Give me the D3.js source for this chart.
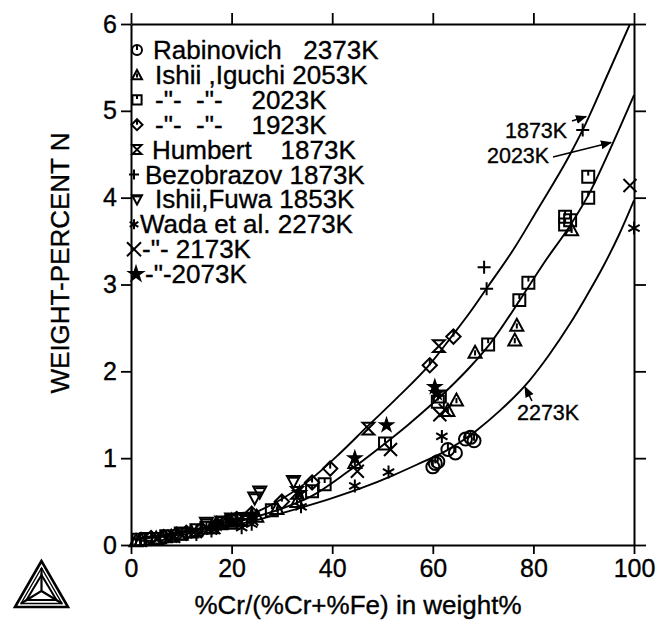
<!DOCTYPE html>
<html>
<head>
<meta charset="utf-8">
<script src="https://cdn.jsdelivr.net/npm/d3@7"></script>
<style>
  body { margin: 0; background: #fff; }
  svg { font-family: "Liberation Sans", Arial, Helvetica, sans-serif; }
  text { stroke: #000; stroke-width: 0.35px; }
</style>
</head>
<body>
<svg id="chart" width="657" height="627"></svg>
<script>
// calculated solubility curves, [%Cr/(%Cr+%Fe), wt-% N]
var curve1873 = [[0,0.07],[10,0.15],[20,0.28],[24.5,0.37],[30,0.53],[35.6,0.75],[41.6,1.06],[46.9,1.36],[53,1.7],[59.4,2.08],[64,2.42],[67.4,2.68],[71,2.98],[76,3.4],[80.7,3.85],[87.3,4.5],[89.8,4.78],[95,5.45],[99.2,6.0]]
var curve2023 = [[0,0.07],[10,0.14],[20,0.25],[24.5,0.32],[30,0.42],[35.8,0.56],[43,0.84],[50.5,1.17],[55,1.38],[59.4,1.6],[63.5,1.82],[67.4,2.05],[71.4,2.32],[77.3,2.82],[82,3.24],[87.3,3.68],[91.3,4.07],[95.2,4.55],[100,5.18]]
var curve2273 = [[0,0.06],[10,0.12],[20,0.22],[24.5,0.28],[33.8,0.43],[40,0.54],[46,0.66],[52,0.8],[57,0.93],[62.8,1.09],[68.7,1.32],[73.4,1.55],[79.3,1.9],[83,2.18],[87.3,2.55],[90.5,2.86],[93.9,3.21],[97,3.57],[100,3.97]]

// measured points
var rabinovich2373 = [[60,0.9],[60.5,0.94],[61,0.96],[63,1.1],[64.5,1.06],[66.5,1.22],[67.5,1.24],[68.2,1.2]]
var ishiiIguchi2053 = [[1,0.05],[2,0.06],[5,0.08],[8,0.1],[12,0.15],[16,0.2],[20,0.25],[25,0.33],[29,0.42],[33,0.5],[44.5,0.95],[63,1.55],[64.7,1.67],[68.4,2.22],[76.3,2.36],[76.7,2.53],[87.6,3.63]]
var ishiiIguchi2023 = [[1.5,0.06],[3,0.07],[7,0.1],[10,0.13],[13,0.17],[15,0.2],[18,0.25],[20,0.28],[22,0.3],[28,0.4],[36,0.62],[38.5,0.7],[50.5,1.17],[61,1.65],[61.4,1.71],[71,2.31],[77.2,2.82],[79,3.02],[86.3,3.78],[86.3,3.69],[87.3,3.74],[90.9,4.0],[90.9,4.24]]
var ishiiIguchi1923 = [[4,0.08],[6.5,0.09],[9,0.12],[11,0.14],[14,0.18],[17,0.23],[19,0.27],[21,0.3],[24,0.36],[30,0.5],[36,0.72],[39.6,0.88],[59.4,2.07],[64.1,2.4]]
var humbert1873 = [[5,0.07],[10,0.13],[18,0.26],[21.5,0.29],[33,0.6],[47.2,1.34],[61.2,2.29]]
var bezobrazov1873 = [[3,0.05],[12,0.15],[22,0.3],[70.2,3.2],[70.7,2.95],[89.8,4.78]]
var ishiiFuwa1853 = [[15,0.25],[20,0.3],[24.6,0.54],[25.6,0.61],[32.3,0.73]]
var wada2273 = [[7,0.08],[13,0.12],[16,0.16],[22,0.2],[24,0.24],[33.8,0.44],[44.5,0.68],[51.2,0.84],[61.8,1.25],[100,3.65]]
var wada2173 = [[8.5,0.1],[16.5,0.2],[24,0.3],[45,0.85],[51.6,1.1],[61.4,1.5],[62.5,1.55],[99.2,4.14]]
var wada2073 = [[17,0.24],[20,0.28],[24,0.35],[33.5,0.6],[44.5,1.0],[50.8,1.38],[60.4,1.82],[60.8,1.75]]

var legendLabels = ['Rabinovich   2373K', 'Ishii ,Iguchi 2053K', '-"-  -"-    2023K', '-"-  -"-    1923K', 'Humbert    1873K', 'Bezobrazov 1873K', 'Ishii,Fuwa 1853K', 'Wada et al. 2273K', '-"- 2173K', '-"-2073K']
var markerTypes = ['circle', 'triangle', 'square', 'diamond', 'hourglass', 'plus', 'triangleDown', 'asterisk', 'cross', 'star']
var seriesPoints = [rabinovich2373, ishiiIguchi2053, ishiiIguchi2023, ishiiIguchi1923, humbert1873, bezobrazov1873, ishiiFuwa1853, wada2273, wada2173, wada2073]

var curveLabels = ['1873K', '2023K', '2273K']
var xTicks = [0, 20, 40, 60, 80, 100]
var yTicks = [0, 1, 2, 3, 4, 5, 6]

var svg = d3.select('#chart')
var plotL = 131, plotR = 634, plotT = 24, plotB = 545

var x = d3.scaleLinear().domain([0, 100]).range([plotL, plotR])
var y = d3.scaleLinear().domain([0, 6]).range([plotB, plotT])

// axes, ticks outward on every side
function styleAxis(g) {
  g.select('.domain').attr('stroke', '#000').attr('stroke-width', 2)
  g.selectAll('.tick line').attr('stroke', '#000').attr('stroke-width', 1.8)
  g.selectAll('.tick text').attr('fill', '#000').style('font-size', '25px')
  g.attr('font-family', null).attr('font-size', null)
}
svg.append('g').attr('transform', 'translate(0,' + plotB + ')')
  .call(d3.axisBottom(x).tickValues(xTicks).tickSize(9).tickSizeOuter(0).tickPadding(5))
  .call(styleAxis)
svg.append('g').attr('transform', 'translate(0,' + plotT + ')')
  .call(d3.axisTop(x).tickValues(xTicks).tickSize(11).tickSizeOuter(0).tickFormat(''))
  .call(styleAxis)
svg.append('g').attr('transform', 'translate(' + plotL + ',0)')
  .call(d3.axisLeft(y).tickValues(yTicks).tickSize(10).tickSizeOuter(0).tickPadding(4).tickFormat(d3.format('d')))
  .call(styleAxis)
svg.append('g').attr('transform', 'translate(' + plotR + ',0)')
  .call(d3.axisRight(y).tickValues(yTicks).tickSize(12).tickSizeOuter(0).tickFormat(''))
  .call(styleAxis)

// axis titles
svg.append('text')
  .attr('x', 358).attr('y', 614)
  .attr('text-anchor', 'middle')
  .style('font-size', '26px')
  .text('%Cr/(%Cr+%Fe) in weight%')
svg.append('text')
  .attr('transform', 'translate(69,' + 263 + ') rotate(-90)')
  .attr('text-anchor', 'middle')
  .style('font-size', '26px')
  .text('WEIGHT-PERCENT N')

// curves
svg.append('clipPath').attr('id', 'plotclip')
  .append('rect').attr('x', plotL).attr('y', plotT).attr('width', plotR - plotL).attr('height', plotB - plotT)
var line = d3.line().x((d) => x(d[0])).y((d) => y(d[1])).curve(d3.curveMonotoneX)
svg.append('g').attr('clip-path', 'url(#plotclip)')
  .selectAll('path')
  .data([curve1873, curve2023, curve2273])
  .enter()
  .append('path')
  .attr('d', line)
  .attr('fill', 'none')
  .attr('stroke', '#000')
  .attr('stroke-width', 1.9)

// marker shapes, s = half size
function drawMarker(g, type, s) {
  var sw = 2
  function p(d) { return g.append('path').attr('d', d).attr('fill', 'none').attr('stroke', '#000').attr('stroke-width', sw) }
  if (type == 'circle') {
    g.append('circle').attr('r', s).attr('fill', 'none').attr('stroke', '#000').attr('stroke-width', sw)
    p('M0,' + (-s) + 'V0')
  } else if (type == 'triangle') {
    p('M0,' + (-s) + 'L' + s + ',' + (s * 0.85) + 'H' + (-s) + 'Z')
    p('M0,' + (-s * 0.3) + 'V' + (s * 0.5))
  } else if (type == 'triangleDown') {
    p('M0,' + s + 'L' + s + ',' + (-s * 0.85) + 'H' + (-s) + 'Z')
    p('M' + (-s * 0.7) + ',' + (-s * 0.6) + 'H' + (s * 0.7))
  } else if (type == 'square') {
    s = s * 0.92
    p('M' + (-s) + ',' + (-s) + 'H' + s + 'V' + s + 'H' + (-s) + 'Z')
    p('M0,' + (-s) + 'V' + (-s * 0.2))
  } else if (type == 'diamond') {
    var r = s * 1.1
    p('M0,' + (-r) + 'L' + r + ',0L0,' + r + 'L' + (-r) + ',0Z')
    p('M0,' + (-r) + 'V0')
  } else if (type == 'hourglass') {
    s = s * 0.9
    p('M' + (-s) + ',' + (-s) + 'H' + s + 'L' + (-s) + ',' + s + 'H' + s + 'Z')
  } else if (type == 'plus') {
    p('M' + (-s) + ',0H' + s + 'M0,' + (-s) + 'V' + s)
  } else if (type == 'cross') {
    p('M' + (-s) + ',' + (-s) + 'L' + s + ',' + s + 'M' + s + ',' + (-s) + 'L' + (-s) + ',' + s)
  } else if (type == 'asterisk') {
    var a = s * 0.87, b = s * 0.5
    p('M0,' + (-s) + 'V' + s + 'M' + (-a) + ',' + (-b) + 'L' + a + ',' + b + 'M' + a + ',' + (-b) + 'L' + (-a) + ',' + b)
  } else if (type == 'star') {
    g.append('path').attr('d', d3.symbol(d3.symbolStar, s * s * 2.4)()).attr('fill', '#000')
  }
}

// data points
seriesPoints.forEach(function (pts, i) {
  svg.append('g')
    .selectAll('g')
    .data(pts)
    .enter()
    .append('g')
    .attr('transform', (d) => 'translate(' + x(d[0]) + ',' + y(d[1]) + ')')
    .each(function () { drawMarker(d3.select(this), markerTypes[i], 6.5) })
})

// legend
var legendMarkerX = [137, 137, 137, 137, 137, 134, 137, 134, 134, 136]
var legendTextX = [153, 155, 155, 155, 152, 145, 155, 140, 142, 145]
legendLabels.forEach(function (lab, i) {
  var base = 59 + i * 24.9
  var g = svg.append('g').attr('transform', 'translate(' + legendMarkerX[i] + ',' + (base - 9) + ')')
  drawMarker(g, markerTypes[i], markerTypes[i] == 'star' || markerTypes[i] == 'cross' ? 7 : 5)
  svg.append('text')
    .attr('x', legendTextX[i]).attr('y', base)
    .attr('xml:space', 'preserve')
    .style('white-space', 'pre')
    .style('font-size', '26px')
    .text(lab)
})

// curve labels and arrows
svg.append('defs').append('marker')
  .attr('id', 'arrow').attr('viewBox', '0 0 10 10').attr('refX', 9).attr('refY', 5)
  .attr('markerWidth', 7).attr('markerHeight', 7).attr('orient', 'auto')
  .append('path').attr('d', 'M0,1L10,5L0,9Z').attr('fill', '#000')
var notes = [
  { text: curveLabels[0], tx: 505, ty: 138, from: [572, 121], to: [586, 116.5] },
  { text: curveLabels[1], tx: 487, ty: 163, from: [553, 157], to: [611, 142.5] },
  { text: curveLabels[2], tx: 517, ty: 420, from: [532, 401], to: [525, 387] },
]
notes.forEach(function (n) {
  svg.append('text').attr('x', n.tx).attr('y', n.ty).style('font-size', '21.5px').text(n.text)
  svg.append('line')
    .attr('x1', n.from[0]).attr('y1', n.from[1]).attr('x2', n.to[0]).attr('y2', n.to[1])
    .attr('stroke', '#000').attr('stroke-width', 1.6).attr('marker-end', 'url(#arrow)')
})

// Thermo-Calc logo
var logo = svg.append('g').attr('fill', 'none').attr('stroke', '#000')
logo.append('path').attr('d', 'M41.5,561L15,607H68Z').attr('stroke-width', 2.6)
logo.append('path').attr('d', 'M41.5,568L21,603.5H62Z').attr('stroke-width', 1.4)
logo.append('path').attr('d', 'M41.5,575L26.5,600H56.5Z').attr('stroke-width', 2)
logo.append('path').attr('d', 'M41.5,568V591L21,603.5M41.5,591L62,603.5').attr('stroke-width', 2.2)
</script>
</body>
</html>
